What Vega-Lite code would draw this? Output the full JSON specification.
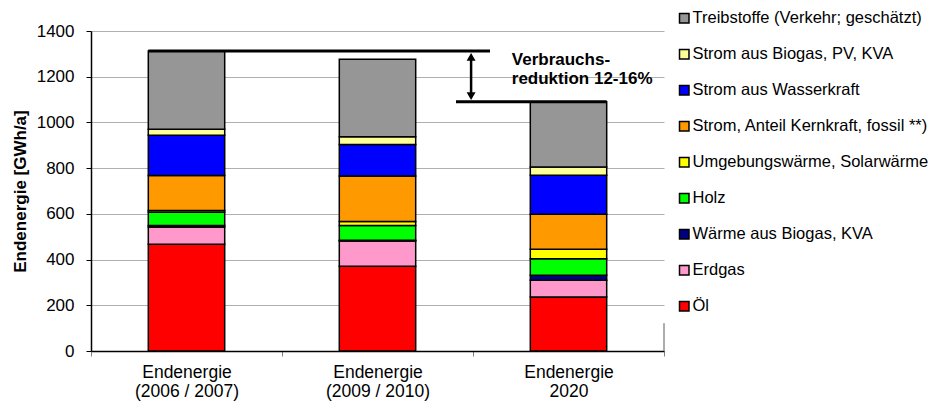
{
  "$schema": "https://vega.github.io/schema/vega-lite/v6.json",
  "width": 573,
  "height": 320,
  "autosize": {"type": "none"},
  "padding": {"left": 91, "top": 31, "right": 274, "bottom": 51},
  "config": {
    "font": "Liberation Sans",
    "view": {"stroke": null},
    "axis": {"labelFont": "Liberation Sans", "titleFont": "Liberation Sans", "labelColor": "#000", "titleColor": "#000"}
  },
  "datasets": {
    "energy": [
      {"period": "Endenergie|(2006 / 2007)", "source": "Öl", "rank": 1, "value": 467},
      {"period": "Endenergie|(2006 / 2007)", "source": "Erdgas", "rank": 2, "value": 76},
      {"period": "Endenergie|(2006 / 2007)", "source": "Wärme aus Biogas, KVA", "rank": 3, "value": 6},
      {"period": "Endenergie|(2006 / 2007)", "source": "Holz", "rank": 4, "value": 58},
      {"period": "Endenergie|(2006 / 2007)", "source": "Umgebungswärme, Solarwärme", "rank": 5, "value": 8},
      {"period": "Endenergie|(2006 / 2007)", "source": "Strom, Anteil Kernkraft, fossil **)", "rank": 6, "value": 153},
      {"period": "Endenergie|(2006 / 2007)", "source": "Strom aus Wasserkraft", "rank": 7, "value": 176},
      {"period": "Endenergie|(2006 / 2007)", "source": "Strom aus Biogas, PV, KVA", "rank": 8, "value": 26},
      {"period": "Endenergie|(2006 / 2007)", "source": "Treibstoffe (Verkehr; geschätzt)", "rank": 9, "value": 343},
      {"period": "Endenergie|(2009 / 2010)", "source": "Öl", "rank": 1, "value": 371},
      {"period": "Endenergie|(2009 / 2010)", "source": "Erdgas", "rank": 2, "value": 110},
      {"period": "Endenergie|(2009 / 2010)", "source": "Wärme aus Biogas, KVA", "rank": 3, "value": 4},
      {"period": "Endenergie|(2009 / 2010)", "source": "Holz", "rank": 4, "value": 64},
      {"period": "Endenergie|(2009 / 2010)", "source": "Umgebungswärme, Solarwärme", "rank": 5, "value": 18},
      {"period": "Endenergie|(2009 / 2010)", "source": "Strom, Anteil Kernkraft, fossil **)", "rank": 6, "value": 199},
      {"period": "Endenergie|(2009 / 2010)", "source": "Strom aus Wasserkraft", "rank": 7, "value": 137},
      {"period": "Endenergie|(2009 / 2010)", "source": "Strom aus Biogas, PV, KVA", "rank": 8, "value": 34},
      {"period": "Endenergie|(2009 / 2010)", "source": "Treibstoffe (Verkehr; geschätzt)", "rank": 9, "value": 339},
      {"period": "Endenergie|2020", "source": "Öl", "rank": 1, "value": 236},
      {"period": "Endenergie|2020", "source": "Erdgas", "rank": 2, "value": 73},
      {"period": "Endenergie|2020", "source": "Wärme aus Biogas, KVA", "rank": 3, "value": 22},
      {"period": "Endenergie|2020", "source": "Holz", "rank": 4, "value": 73},
      {"period": "Endenergie|2020", "source": "Umgebungswärme, Solarwärme", "rank": 5, "value": 41},
      {"period": "Endenergie|2020", "source": "Strom, Anteil Kernkraft, fossil **)", "rank": 6, "value": 153},
      {"period": "Endenergie|2020", "source": "Strom aus Wasserkraft", "rank": 7, "value": 171},
      {"period": "Endenergie|2020", "source": "Strom aus Biogas, PV, KVA", "rank": 8, "value": 36},
      {"period": "Endenergie|2020", "source": "Treibstoffe (Verkehr; geschätzt)", "rank": 9, "value": 285}
    ]
  },
  "layer": [
    {
      "data": {"name": "energy"},
      "mark": {"type": "bar", "width": {"band": 0.4}, "stroke": "#000", "strokeWidth": 1.5},
      "encoding": {
        "x": {
          "field": "period", "type": "nominal", "sort": null,
          "scale": {"paddingInner": 0, "paddingOuter": 0},
          "axis": {
            "title": null, "labelAngle": 0, "labelExpr": "datum.value ? split(datum.value, '|') : ''",
            "labelFontSize": 17.5, "labelLineHeight": 19.5, "labelPadding": 7,
            "tickBand": "extent", "tickSize": 5, "tickColor": "#808080",
            "domainColor": "#000", "domainWidth": 1.5
          }
        },
        "y": {
          "field": "value", "type": "quantitative", "stack": "zero",
          "scale": {"domain": [0, 1400], "nice": false},
          "axis": {
            "title": "Endenergie [GWh/a]", "titleFontSize": 17, "titleFontWeight": "bold", "titlePadding": 7,
            "values": [0, 200, 400, 600, 800, 1000, 1200, 1400], "format": "d",
            "labelFontSize": 17, "labelPadding": 12, "tickSize": 5, "tickColor": "#000",
            "domainColor": "#000", "domainWidth": 1.5,
            "grid": true, "gridColor": "#b0b0b0", "gridWidth": 1
          }
        },
        "color": {
          "field": "source", "type": "nominal",
          "scale": {
            "domain": ["Treibstoffe (Verkehr; geschätzt)", "Strom aus Biogas, PV, KVA", "Strom aus Wasserkraft", "Strom, Anteil Kernkraft, fossil **)", "Umgebungswärme, Solarwärme", "Holz", "Wärme aus Biogas, KVA", "Erdgas", "Öl"],
            "range": ["#969696", "#FFFF99", "#0000FF", "#FF9900", "#FFFF00", "#00FF00", "#000080", "#FF99CC", "#FF0000"]
          },
          "legend": {
            "title": null, "orient": "none", "legendX": 585, "legendY": -21, "padding": 0,
            "symbolType": "square", "symbolSize": 90, "symbolStrokeColor": "#000", "symbolStrokeWidth": 1.5,
            "labelFontSize": 16.5, "labelColor": "#000", "labelOffset": 0, "rowPadding": 19, "labelLimit": 300
          }
        },
        "order": {"field": "rank", "type": "quantitative"}
      }
    },
    {
      "data": {"values": [{"from": "Endenergie|(2006 / 2007)", "to": "Endenergie|2020", "y": 1313}]},
      "mark": {"type": "rule", "strokeWidth": 3, "color": "#000"},
      "encoding": {
        "x": {"field": "from", "type": "nominal", "bandPosition": 0.3},
        "x2": {"field": "to", "bandPosition": 0.089},
        "y": {"field": "y", "type": "quantitative"}
      }
    },
    {
      "data": {"values": [{"from": "Endenergie|(2009 / 2010)", "to": "Endenergie|2020", "y": 1090}]},
      "mark": {"type": "rule", "strokeWidth": 3, "color": "#000"},
      "encoding": {
        "x": {"field": "from", "type": "nominal", "bandPosition": 0.911},
        "x2": {"field": "to", "bandPosition": 0.7},
        "y": {"field": "y", "type": "quantitative"}
      }
    },
    {
      "data": {"values": [{"at": "Endenergie|(2009 / 2010)", "y": 1290, "y2": 1110}]},
      "mark": {"type": "rule", "strokeWidth": 2.5, "color": "#000"},
      "encoding": {
        "x": {"field": "at", "type": "nominal", "bandPosition": 0.99},
        "y": {"field": "y", "type": "quantitative"},
        "y2": {"field": "y2"}
      }
    },
    {
      "data": {"values": [{"at": "Endenergie|(2009 / 2010)", "y": 1287, "dir": "up"}, {"at": "Endenergie|(2009 / 2010)", "y": 1115, "dir": "down"}]},
      "mark": {"type": "point", "filled": true, "color": "#000", "opacity": 1, "size": 80},
      "encoding": {
        "x": {"field": "at", "type": "nominal", "bandPosition": 0.99},
        "y": {"field": "y", "type": "quantitative"},
        "shape": {"field": "dir", "type": "nominal", "scale": {"domain": ["up", "down"], "range": ["triangle-up", "triangle-down"]}, "legend": null}
      }
    },
    {
      "data": {"values": [{"at": "Endenergie|2020", "y": 1250, "text": "Verbrauchs-"}, {"at": "Endenergie|2020", "y": 1166, "text": "reduktion 12-16%"}]},
      "mark": {"type": "text", "align": "left", "baseline": "alphabetic", "fontSize": 17, "fontWeight": "bold", "color": "#000"},
      "encoding": {
        "x": {"field": "at", "type": "nominal", "bandPosition": 0.203},
        "y": {"field": "y", "type": "quantitative"},
        "text": {"field": "text"}
      }
    },
    {
      "data": {"values": [{"at": "Endenergie|2020", "y": 0, "y2": 121}]},
      "mark": {"type": "rule", "strokeWidth": 1.5, "color": "#909090"},
      "encoding": {
        "x": {"field": "at", "type": "nominal", "bandPosition": 1},
        "y": {"field": "y", "type": "quantitative"},
        "y2": {"field": "y2"}
      }
    }
  ]
}
